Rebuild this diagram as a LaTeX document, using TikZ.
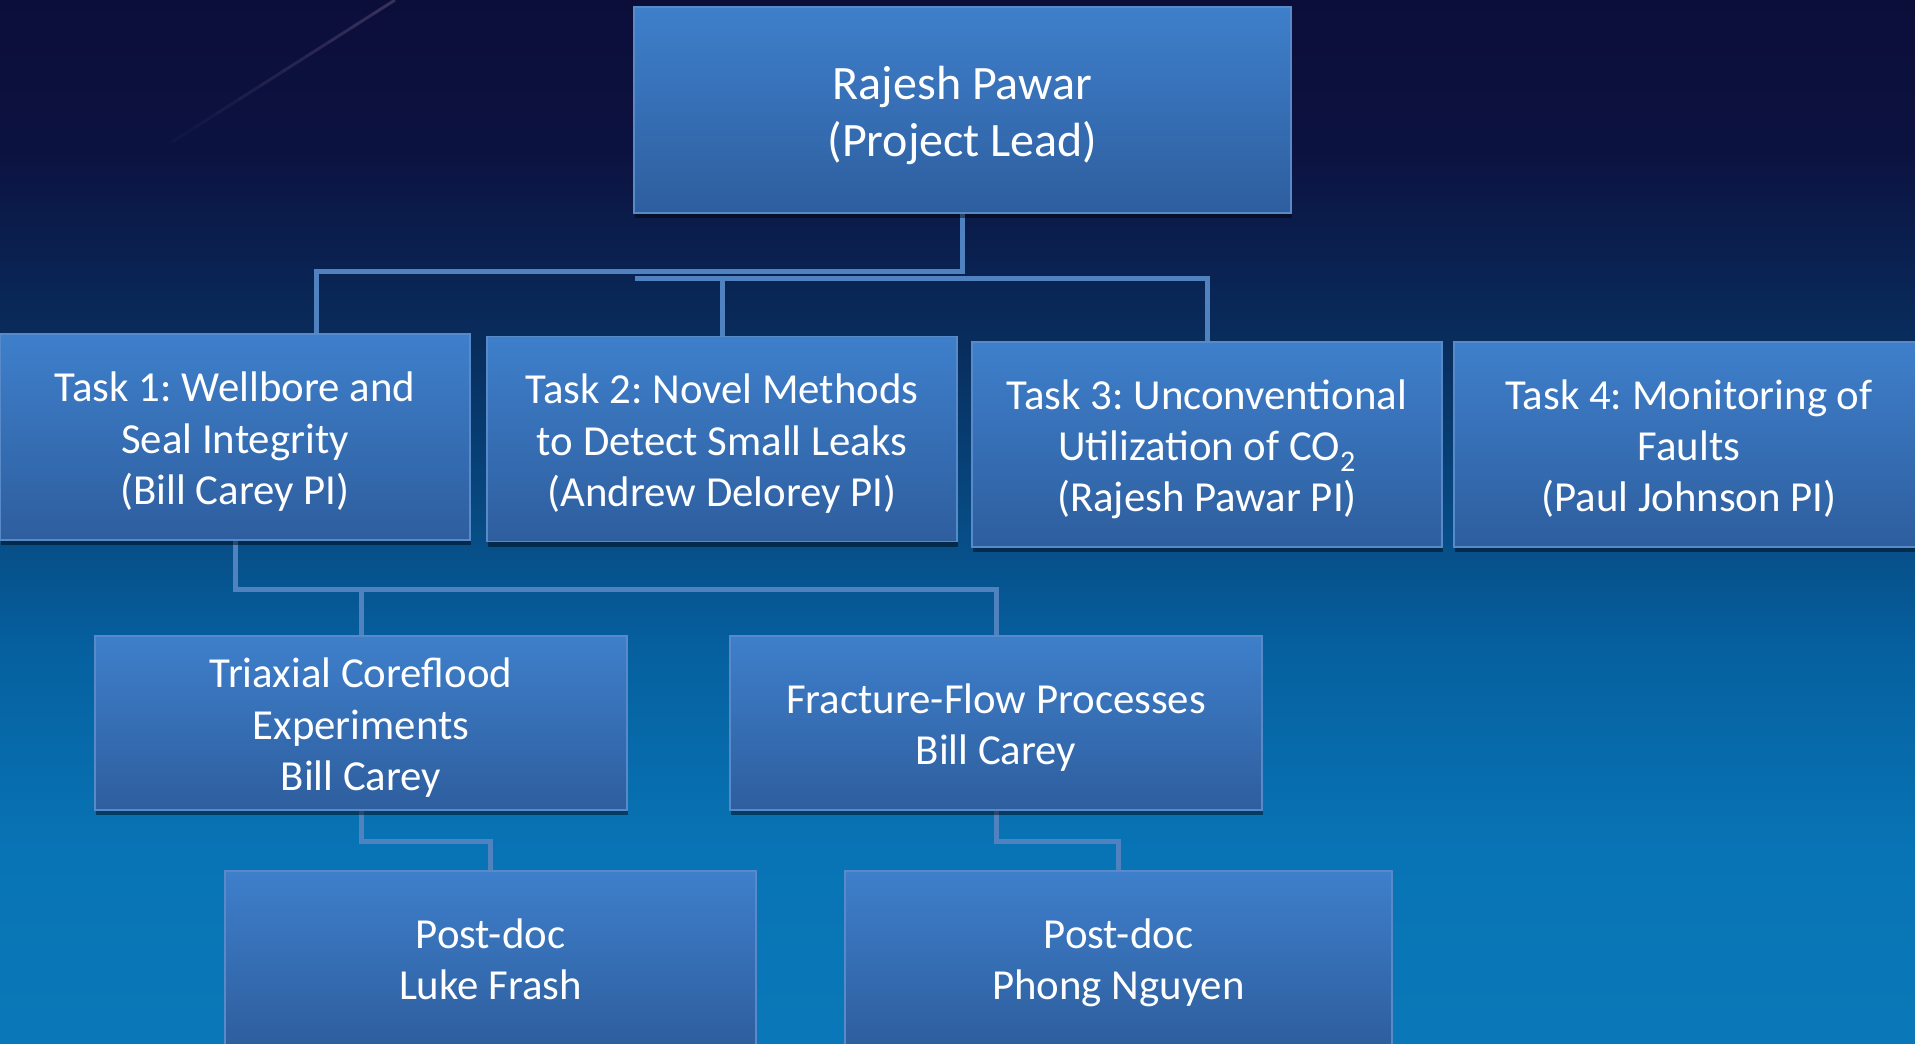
\documentclass[tikz,border=0pt]{standalone}
\usepackage{fontspec}
\setmainfont{Carlito}
\frenchspacing
\usetikzlibrary{shadows,calc}
\definecolor{boxtop}{RGB}{62,127,203}
\definecolor{boxbot}{RGB}{46,94,158}
\definecolor{boxline}{RGB}{88,138,202}
\definecolor{connc}{RGB}{80,130,192}
\definecolor{bgA}{RGB}{12,14,58}
\definecolor{bgB}{RGB}{12,18,64}
\definecolor{bgC}{RGB}{8,46,94}
\definecolor{bgD}{RGB}{6,96,159}
\definecolor{bgE}{RGB}{8,116,181}
\definecolor{bgF}{RGB}{10,120,184}
\definecolor{streakc}{RGB}{80,70,110}
\newcommand\TopS{\rule{0pt}{1.07em}}
\newcommand\BotS{\rule[-0.32em]{0pt}{0.32em}}
\pgfdeclarelayer{bglayer}
\pgfdeclarelayer{background}
\pgfsetlayers{bglayer,background,main}
\pgfdeclareverticalshading{bgshade}{100bp}{color(0bp)=(bgF); color(25bp)=(bgF); color(34.3bp)=(bgE); color(43.9bp)=(bgD); color(58.2bp)=(bgC); color(67.8bp)=(bgB); color(75bp)=(bgA); color(100bp)=(bgA)}
\begin{document}
\begin{tikzpicture}[x=1pt,y=-1pt,
  box/.style={draw=boxline, line width=1.2pt, top color=boxtop, bottom color=boxbot,
    text=white, align=center, font=\fontsize{42.8}{51.3}\selectfont, inner sep=0pt,
    drop shadow={shadow xshift=1pt, shadow yshift=-5pt, opacity=0.45, fill=black}},
  leadbox/.style={box, font=\fontsize{48}{57.5}\selectfont},
  conn/.style={draw=connc, line width=5pt}]
\useasboundingbox (0,0) rectangle (1915,1044);
\clip (0,0) rectangle (1915,1044);
\begin{pgfonlayer}{bglayer}
  \fill[shading=bgshade] (0,0) rectangle (1915,1044);
  \coordinate (s0) at (172,142);
  \coordinate (s1) at (395,0);
  \foreach \i in {0,...,9} {
    \draw[streakc, line width=3pt, opacity=0.08+0.06*\i]
      ($(s0)!{\i/10}!(s1)$) -- ($(s0)!{(\i+1)/10}!(s1)$);
  }
\end{pgfonlayer}

\node[leadbox, minimum width=657pt, minimum height=206pt] (lead) at (962.5,110) {\TopS Rajesh Pawar\\(Project Lead)\BotS};

\node[box, minimum width=470pt, minimum height=206pt] (t1) at (235,437) {\TopS Task 1: Wellbore and\\Seal Integrity\\(Bill Carey PI)\BotS};
\node[box, minimum width=470pt, minimum height=205pt] (t2) at (722,439) {\TopS Task 2: Novel Methods\\to Detect Small Leaks\\(Andrew Delorey PI)\BotS};
\node[box, minimum width=470pt, minimum height=205pt] (t3) at (1207,444.5) {\TopS Task 3: Unconventional\\Utilization of CO\textsubscript{2}\\(Rajesh Pawar PI)\BotS};
\node[box, minimum width=470pt, minimum height=205pt] (t4) at (1689,444.5) {\TopS Task 4: Monitoring of\\Faults\\(Paul Johnson PI)\BotS};

\node[box, minimum width=532pt, minimum height=174pt] (tri) at (361,723) {\TopS Triaxial Coreflood\\Experiments\\Bill Carey\BotS};
\node[box, minimum width=532pt, minimum height=174pt] (frac) at (996,723) {\TopS Fracture-Flow Processes\\Bill Carey\BotS};

\node[box, minimum width=531pt, minimum height=174pt] (luke) at (490.5,958) {\TopS Post-doc\\Luke Frash\BotS};
\node[box, minimum width=547pt, minimum height=174pt] (phong) at (1118.5,958) {\TopS Post-doc\\Phong Nguyen\BotS};

\begin{pgfonlayer}{background}
  \coordinate (jA) at (316,271);
  \coordinate (jB) at (635,278);
  \coordinate (jC) at (235,589);
  \draw[conn] (lead.south) |- (jA) -- (jA |- t1.north);
  \draw[conn] (jB) -| (t3.north);
  \draw[conn] (t2.north) -- (t2.north |- jB);
  \draw[conn] (t1.south) -- (t1.south |- jC) -| (frac.north);
  \draw[conn] (tri.north) -- (tri.north |- jC);
  \draw[conn] (tri.south) -- ++(0,31) -| (luke.north);
  \draw[conn] (frac.south) -- ++(0,31) -| (phong.north);
\end{pgfonlayer}
\end{tikzpicture}
\end{document}
